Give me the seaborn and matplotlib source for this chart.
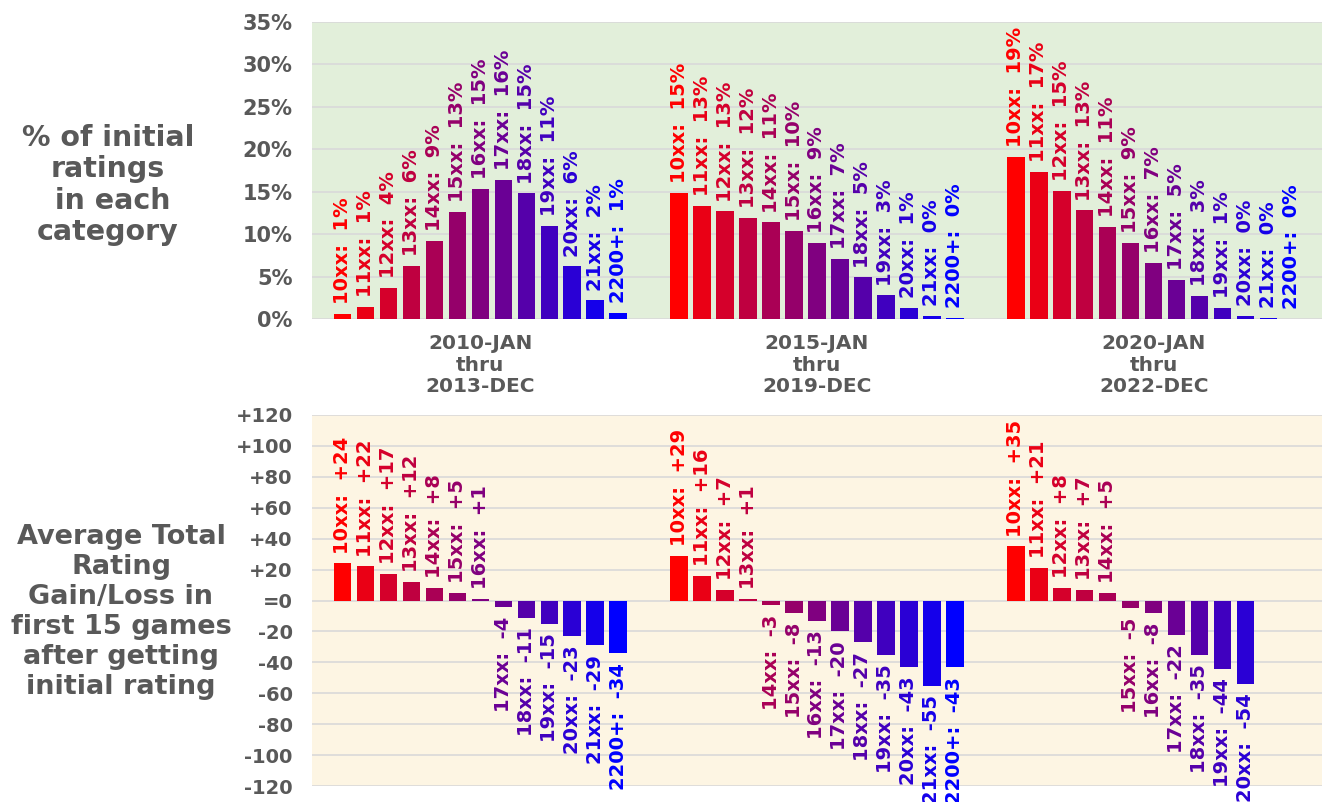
import numpy as np
import pandas as pd
import matplotlib
matplotlib.use("Agg")
import matplotlib.pyplot as plt
from matplotlib.ticker import FuncFormatter, MultipleLocator
import seaborn as sns

# Rating categories (first official rating bucket)
categories = ["10xx", "11xx", "12xx", "13xx", "14xx", "15xx", "16xx",
              "17xx", "18xx", "19xx", "20xx", "21xx", "2200+"]

# Time periods
periods = ["2010-JAN\nthru\n2013-DEC",
           "2015-JAN\nthru\n2019-DEC",
           "2020-JAN\nthru\n2022-DEC"]

# Share of initial ratings in each category (%)
pct_2010 = [0.6, 1.4, 3.7, 6.3, 9.2, 12.6, 15.3, 16.4, 14.8, 11.0, 6.2, 2.2, 0.7]
pct_2015 = [14.9, 13.3, 12.7, 11.9, 11.4, 10.4, 9.0, 7.1, 4.9, 2.8, 1.3, 0.4, 0.1]
pct_2020 = [19.1, 17.3, 15.1, 12.8, 10.9, 9.0, 6.6, 4.6, 2.7, 1.3, 0.4, 0.1, 0.05]

# Average total rating gain/loss over the first 15 games
gain_2010 = [24, 22, 17, 12, 8, 5, 1, -4, -11, -15, -23, -29, -34]
gain_2015 = [29, 16, 7, 1, -3, -8, -13, -20, -27, -35, -43, -55, -43]
gain_2020 = [35, 21, 8, 7, 5, -5, -8, -22, -35, -44, -54, np.nan, np.nan]

pct_df = pd.DataFrame({
    "period": np.repeat(periods, len(categories)),
    "category": categories * len(periods),
    "value": pct_2010 + pct_2015 + pct_2020,
})
gain_df = pd.DataFrame({
    "period": np.repeat(periods, len(categories)),
    "category": categories * len(periods),
    "value": gain_2010 + gain_2015 + gain_2020,
}).dropna()

# Red -> blue gradient across the rating buckets
red = np.array([1.0, 0.0, 0.0])
blue = np.array([0.0, 0.0, 1.0])
n = len(categories)
palette = {c: tuple(red + (blue - red) * i / (n - 1)) for i, c in enumerate(categories)}

GREY = "#595959"
plt.rcParams["font.family"] = ["DejaVu Sans"]
plt.rcParams["font.weight"] = "bold"

fig = plt.figure(figsize=(13.23, 8.02), dpi=100)
ax_top = fig.add_axes([312 / 1323, 1 - 319 / 802, 1010 / 1323, 297 / 802])
ax_bot = fig.add_axes([312 / 1323, 1 - 786 / 802, 1010 / 1323, 371 / 802])

bar_kw = dict(x="period", y="value", hue="category", order=periods,
              hue_order=categories, palette=palette, width=0.887, gap=0.24,
              dodge=True, legend=False, saturation=1, errorbar=None)

sns.barplot(data=pct_df, ax=ax_top, **bar_kw)
sns.barplot(data=gain_df, ax=ax_bot, **bar_kw)

def style_axis(ax, face, ysize):
    ax.set_facecolor(face)
    for s in ax.spines.values():
        s.set_visible(False)
    ax.grid(axis="y", color="#d9d9d9", linewidth=1.2)
    ax.set_axisbelow(True)
    ax.set_xlim(-0.5, 2.5)
    ax.set_xlabel("")
    ax.set_ylabel("")
    ax.tick_params(axis="both", length=0, labelcolor=GREY)
    ax.tick_params(axis="y", pad=14, labelsize=ysize)

style_axis(ax_top, "#e2efda", 15)
style_axis(ax_bot, "#fdf5e3", 14)

ax_top.set_ylim(0, 35)
ax_top.yaxis.set_major_locator(MultipleLocator(5))
ax_top.yaxis.set_major_formatter(FuncFormatter(lambda v, p: f"{v:.0f}%"))
ax_top.tick_params(axis="x", pad=11, labelsize=14.5)
for t in ax_top.get_xticklabels():
    t.set_fontweight("bold")
    t.set_linespacing(1.15)

ax_bot.set_ylim(-120, 120)
ax_bot.yaxis.set_major_locator(MultipleLocator(20))
ax_bot.yaxis.set_major_formatter(
    FuncFormatter(lambda v, p: "=0" if abs(v) < 1e-9 else f"{v:+.0f}"))
ax_bot.set_xticks([])

for t in ax_top.get_yticklabels() + ax_bot.get_yticklabels():
    t.set_fontweight("bold")

# Value labels above / below each bar, in the bar's own colour
for cont, cat in zip(ax_top.containers, categories):
    ax_top.bar_label(cont, fmt=lambda v, c=cat: f"{c}:  {v:.0f}%",
                     rotation=90, padding=7, color=palette[cat],
                     fontsize=14, fontweight="bold")
for cont, cat in zip(ax_bot.containers, categories):
    ax_bot.bar_label(cont, fmt=lambda v, c=cat: f"{c}:  {v:+.0f}",
                     rotation=90, padding=7, color=palette[cat],
                     fontsize=14, fontweight="bold")

fig.text(108 / 1323, 1 - 185 / 802, "% of initial\nratings\n in each\ncategory",
         ha="center", va="center", fontsize=20.5, fontweight="bold",
         color=GREY, linespacing=1.15)
fig.text(121 / 1323, 1 - 612 / 802,
         "Average Total\nRating\nGain/Loss in\nfirst 15 games\nafter getting\ninitial rating",
         ha="center", va="center", fontsize=19.5, fontweight="bold",
         color=GREY, linespacing=1.2)

fig.savefig("out.png", dpi=100)
